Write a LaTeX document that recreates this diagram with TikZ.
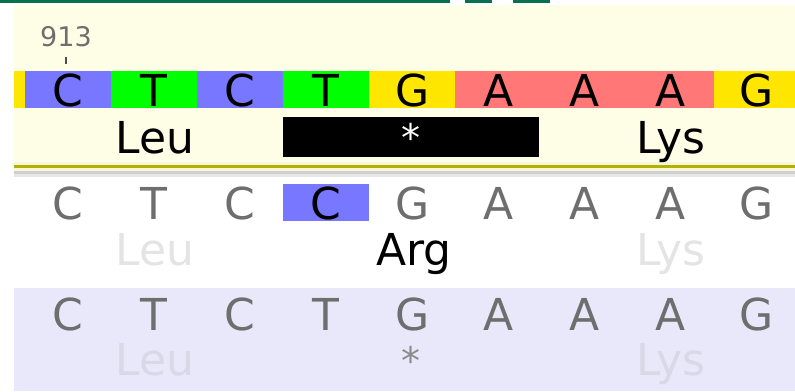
\documentclass[tikz,border=0pt]{standalone}
\usepackage{fontspec}
\setmainfont{DejaVu Sans}
\definecolor{topgreen}{HTML}{07704C}
\definecolor{cream}{HTML}{FEFEE6}
\definecolor{creamlight}{HTML}{F6F6D8}
\definecolor{olive}{HTML}{B4B000}
\definecolor{sepgray}{HTML}{CFCFCF}
\definecolor{lav}{HTML}{E8E8FA}
\definecolor{seqblue}{HTML}{7777FF}
\definecolor{seqgreen}{HTML}{00FF00}
\definecolor{seqyellow}{HTML}{FFE600}
\definecolor{seqred}{HTML}{FF7777}
\definecolor{seqgray}{HTML}{6E6E6E}
\definecolor{faded}{HTML}{E4E4E4}
\definecolor{fadedlav}{HTML}{D8D8E6}
\begin{document}
\begin{tikzpicture}[x=1pt,y=-1pt,
    base/.style={anchor=base,inner sep=0pt,font=\fontsize{44}{44}\selectfont},
    aa/.style={anchor=base,inner sep=0pt,font=\fontsize{44}{44}\selectfont},
    cell/.style={inner sep=0pt,minimum width=86.2pt,minimum height=37pt,
        text height=35pt,text depth=2pt,font=\fontsize{44}{44}\selectfont}]
    \useasboundingbox (0,0) rectangle (795,391);

    % panels
    \fill[topgreen] (0,0) rectangle (450,2.5);
    \fill[topgreen] (465,0) rectangle (492,2.5);
    \fill[topgreen] (513,0) rectangle (550,2.5);
    \fill[cream] (14,5) rectangle (795,162);
    \fill[creamlight] (14,162) rectangle (795,165);
    \fill[olive] (14,165) rectangle (795,168);
    \fill[creamlight] (14,168) rectangle (795,171);
    \fill[sepgray] (14,171) rectangle (795,174);
    \fill[sepgray!50] (14,174) rectangle (795,177);
    \fill[lav] (14,288) rectangle (795,391);

    % position mark
    \node[base,text=seqgray,font=\fontsize{27}{27}\selectfont] (pos) at (66,46) {913};
    \coordinate (tick) at (66,57);
    \draw[black!70,line width=1.2pt] (tick) -- ++(0,7);

    % reference sequence
    \fill[seqyellow] (14,71) rectangle (25,108);
    \foreach \b/\c [count=\i from 0] in {C/seqblue,T/seqgreen,C/seqblue,T/seqgreen,
        G/seqyellow,A/seqred,A/seqred,A/seqred,G/seqyellow}
        \node[cell,fill=\c] (ref\i) at ({68+86.1*\i},89.5) {\b};

    % translation of the reference
    \node[aa] (refleu) at (155,153) {Leu};
    \node[fill=black,inner sep=0pt,minimum width=256pt,minimum height=40pt] (stop) at (411,137) {};
    \node[base,text=white,font=\fontsize{38}{38}\selectfont] (stopstar) at (411,151) {*};
    \node[aa] (reflys) at (671,153) {Lys};

    % first read, T>C
    \foreach \b [count=\i from 0] in {C,T,C,C,G,A,A,A,G}{
        \ifnum\i=3
            \node[cell,fill=seqblue] (muta\i) at ({68+86.1*\i},202.5) {\b};
        \else
            \node[base,text=seqgray] (muta\i) at ({68+86.1*\i},219) {\b};
        \fi
    }
    \node[aa,text=faded] (mutaleu) at (155,265) {Leu};
    \node[aa] (mutaarg) at (414,265) {Arg};
    \node[aa,text=faded] (mutalys) at (671,265) {Lys};

    % second read
    \foreach \b [count=\i from 0] in {C,T,C,T,G,A,A,A,G}
        \node[base,text=seqgray] (mutb\i) at ({68+86.1*\i},330) {\b};
    \node[aa,text=fadedlav] (mutbleu) at (155,375) {Leu};
    \node[base,text=seqgray!80,font=\fontsize{38}{38}\selectfont] (mutbstar) at (411,374) {*};
    \node[aa,text=fadedlav] (mutblys) at (671,375) {Lys};
\end{tikzpicture}
\end{document}
